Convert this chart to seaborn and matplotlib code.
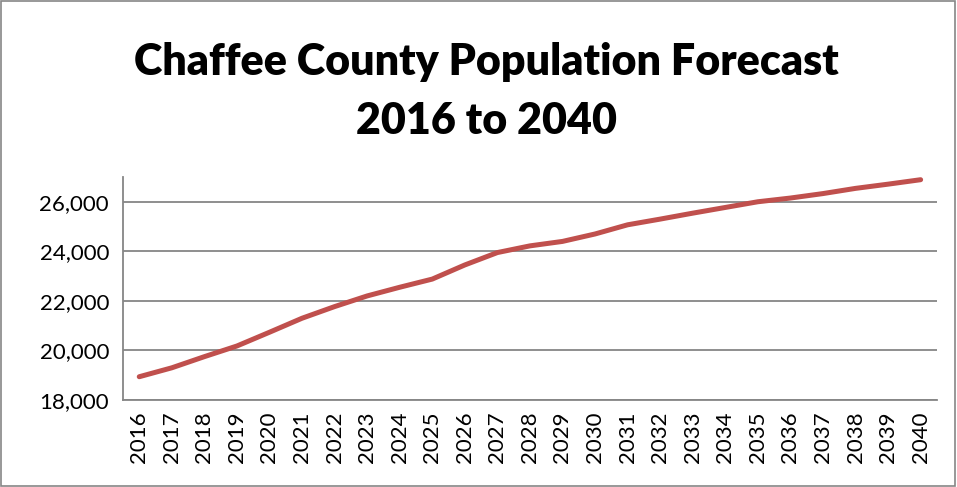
import numpy as np
import pandas as pd
import matplotlib.pyplot as plt
import matplotlib.ticker as mticker
import seaborn as sns

years = list(range(2016, 2041))
population = [18940, 19300, 19750, 20180, 20735, 21300, 21770, 22200, 22550, 22880,
              23450, 23950, 24220, 24400, 24700, 25070, 25300, 25540, 25770, 26000,
              26150, 26330, 26540, 26710, 26890]
y_ticks = [18000, 20000, 22000, 24000, 26000]

df = pd.DataFrame({'year': years, 'population': population})

sns.set_style('white')
plt.rcParams['font.family'] = ['Lato', 'DejaVu Sans']

fig = plt.figure(figsize=(9.57, 4.87), dpi=100)
ax = fig.add_axes([0.1285, 0.1786, 0.8505, 0.458])

sns.lineplot(data=df, x='year', y='population', ax=ax, color='#C0504D', linewidth=3.6,
             solid_capstyle='round')

grid_c = '#868686'
ax.set_ylim(18000, 27000)
ax.set_xlim(2015.5, 2040.5)
ax.set_yticks(y_ticks)
ax.yaxis.set_major_formatter(mticker.StrMethodFormatter('{x:,.0f}'))
ax.set_xticks(years)
ax.set_xticklabels([str(y) for y in years], rotation=90)
ax.xaxis.set_minor_locator(mticker.FixedLocator([y + 0.5 for y in [2015] + years]))
ax.tick_params(axis='x', which='major', length=0, pad=8, labelsize=16, labelcolor='black')
ax.tick_params(axis='x', which='minor', length=6, width=1.2, color=grid_c, direction='out')
ax.tick_params(axis='y', which='major', length=6, width=1.2, color=grid_c, direction='out',
               labelsize=16, pad=4, labelcolor='black')
ax.grid(axis='y', color=grid_c, linewidth=1.3)
ax.set_axisbelow(True)
for s in ['top', 'right']:
    ax.spines[s].set_visible(False)
for s in ['left', 'bottom']:
    ax.spines[s].set_color(grid_c)
    ax.spines[s].set_linewidth(1.3)
ax.set_xlabel('')
ax.set_ylabel('')

fig.text(0.508, 0.812, 'Chaffee County Population Forecast\n2016 to 2040', ha='center',
         va='center', fontsize=31, fontweight='heavy', color='black', linespacing=1.55)

fig.patches.append(plt.Rectangle((0.001, 0.002), 0.997, 0.995, transform=fig.transFigure,
                                 fill=False, edgecolor=grid_c, linewidth=1.2))

fig.savefig('out.png', dpi=100)
